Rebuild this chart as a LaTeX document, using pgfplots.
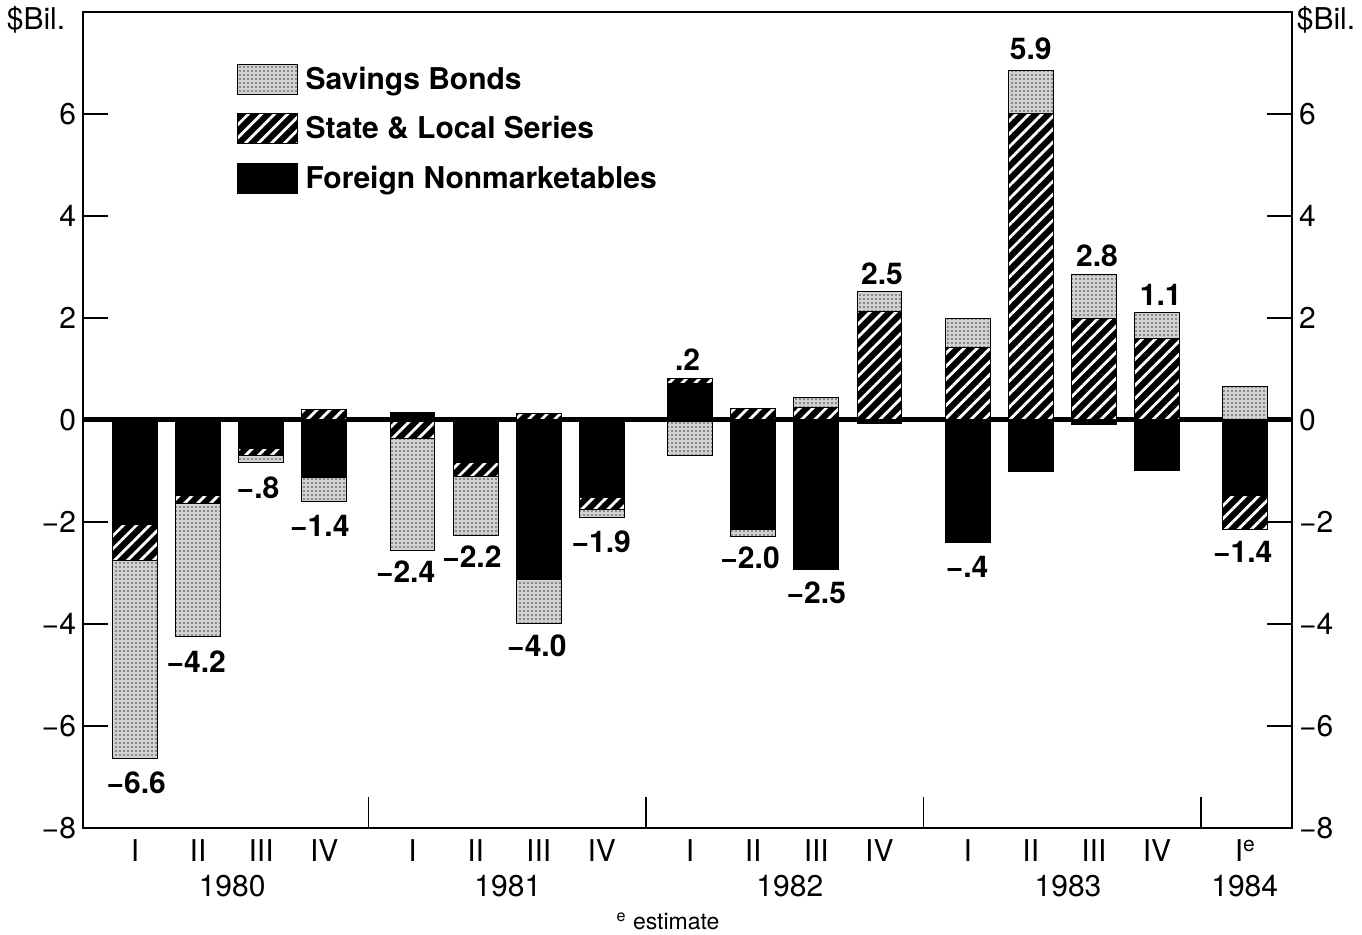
\documentclass[border=0pt]{standalone}
\usepackage{pgfplots}
\pgfplotsset{compat=1.18}
\usepackage{pgfplotstable}
\usetikzlibrary{patterns,patterns.meta}
\usepackage{fontspec}
\setmainfont{TeX Gyre Heros}

% negative parts of each quarter (Foreign, State&Local, Savings Bonds)
\pgfplotstableread{
x     F      SL     SB
0     -2.04  -0.72  -3.87
1     -1.48  -0.15  -2.62
2     -0.56  -0.13  -0.14
3     -1.12   0.00  -0.48
4.4    0.00  -0.36  -2.20
5.4   -0.83  -0.28  -1.15
6.4   -3.13   0.00  -0.87
7.4   -1.52  -0.24  -0.15
8.8    0.00   0.00  -0.70
9.8   -2.15   0.00  -0.13
10.8  -2.93   0.00   0.00
11.8  -0.07   0.00   0.00
13.2  -2.40   0.00   0.00
14.2  -1.02   0.00   0.00
15.2  -0.08   0.00   0.00
16.2  -1.00   0.00   0.00
17.6  -1.48  -0.66   0.00
}\negdata
% positive parts
\pgfplotstableread{
x     F      SL     SB
0     0.00   0.00   0.00
1     0.00   0.00   0.00
2     0.00   0.00   0.00
3     0.00   0.20   0.00
4.4   0.15   0.00   0.00
5.4   0.00   0.00   0.00
6.4   0.00   0.12   0.00
7.4   0.00   0.00   0.00
8.8   0.71   0.11   0.00
9.8   0.00   0.23   0.00
10.8  0.00   0.25   0.20
11.8  0.00   2.12   0.39
13.2  0.00   1.42   0.56
14.2  0.00   6.00   0.86
15.2  0.00   1.98   0.87
16.2  0.00   1.59   0.51
17.6  0.00   0.00   0.66
}\posdata

\tikzset{
  fnm/.style={fill=black, draw=black, line width=0.5pt},
  sls/.style={fill=black, draw=black, line width=0.5pt,
     postaction={pattern={Lines[angle=45,distance=4.6pt,line width=1.4pt]}, pattern color=white}},
  sbs/.style={fill=black!18, draw=black, line width=0.5pt,
     postaction={pattern={Dots[distance=2pt,radius=0.45pt]}, pattern color=black!75}},
  vl/.style={font=\fontsize{15}{18}\selectfont\bfseries, anchor=center},
  yr/.style={font=\fontsize{15}{18}\selectfont, anchor=base},
}
\pgfplotsset{
  leg/.style={legend image code/.code={\draw[##1] (0pt,-7.5pt) rectangle (30pt,7.5pt);}},
  common/.style={
    scale only axis, width=604.5pt, height=408pt,
    at={(0,0)}, anchor=south west,
    xmin=-0.824, xmax=18.34, ymin=-8, ymax=8,
    ybar stacked, bar width=0.71,
    ytick={-8,-6,-4,-2,0,2,4,6},
    yticklabels={−8,−6,−4,−2,0,2,4,6},
    tick align=inside, major tick length=12.5pt,
    axis line style={line width=0.8pt},
    tick style={black, line width=0.8pt},
    ytick pos=both, xtick pos=left,
    tick label style={font=\fontsize{15}{18}\selectfont},
    clip=false,
  },
}

\begin{document}
\begin{tikzpicture}
\useasboundingbox (-41.5pt,-53.5pt) rectangle (639.5pt,414pt);
\begin{axis}[common,
  major tick length=0pt,
  yticklabel pos=left,
  xtick={0,1,2,3,4.4,5.4,6.4,7.4,8.8,9.8,10.8,11.8,13.2,14.2,15.2,16.2,17.6},
  xticklabels={I,II,III,IV,I,II,III,IV,I,II,III,IV,I,II,III,IV,I\textsuperscript{e}},
  xticklabel style={anchor=base, yshift=-17pt},
  legend style={at={(rel axis cs:0.127,0.9375)}, anchor=north west, draw=none, fill=none,
     inner sep=0pt, outer sep=0pt, row sep=8pt,
     font=\fontsize{15}{18}\selectfont\bfseries,
     /tikz/every odd column/.append style={column sep=2pt}},
  legend cell align=left, reverse legend,
]
\addplot[fnm, leg] table[x=x,y=F]{\negdata};
\addlegendentry{Foreign Nonmarketables}
\addplot[sls, leg] table[x=x,y=SL]{\negdata};
\addlegendentry{State \& Local Series}
\addplot[sbs, leg] table[x=x,y=SB]{\negdata};
\addlegendentry{Savings Bonds}
\end{axis}

\begin{axis}[common,
  yticklabel pos=right,
  xtick=\empty,
]
\addplot[fnm] table[x=x,y=F]{\posdata};
\addplot[sls] table[x=x,y=SL]{\posdata};
\addplot[sbs] table[x=x,y=SB]{\posdata};
\draw[line width=2.5pt] (axis cs:-0.824,0) -- (axis cs:18.34,0);
\draw[line width=0.8pt] (axis cs:3.7,-8) -- (axis cs:3.7,-7.39);
\draw[line width=0.8pt] (axis cs:8.1,-8) -- (axis cs:8.1,-7.39);
\draw[line width=0.8pt] (axis cs:12.5,-8) -- (axis cs:12.5,-7.39);
\draw[line width=0.8pt] (axis cs:16.9,-8) -- (axis cs:16.9,-7.39);
% value labels
\node[vl] at (axis cs:0.02,-7.12) {−6.6};
\node[vl] at (axis cs:0.97,-4.73) {−4.2};
\node[vl] at (axis cs:1.95,-1.32) {−.8};
\node[vl] at (axis cs:2.93,-2.08) {−1.4};
\node[vl] at (axis cs:4.29,-2.98) {−2.4};
\node[vl] at (axis cs:5.34,-2.67) {−2.2};
\node[vl] at (axis cs:6.37,-4.43) {−4.0};
\node[vl] at (axis cs:7.39,-2.39) {−1.9};
\node[vl] at (axis cs:8.76,1.18) {.2};
\node[vl] at (axis cs:9.75,-2.71) {−2.0};
\node[vl] at (axis cs:10.8,-3.38) {−2.5};
\node[vl] at (axis cs:11.84,2.86) {2.5};
\node[vl] at (axis cs:13.19,-2.88) {−.4};
\node[vl] at (axis cs:14.2,7.27) {5.9};
\node[vl] at (axis cs:15.25,3.22) {2.8};
\node[vl] at (axis cs:16.26,2.46) {1.1};
\node[vl] at (axis cs:17.56,-2.58) {−1.4};
% years
\node[yr, yshift=-34.5pt] at (axis cs:1.54,-8) {1980};
\node[yr, yshift=-34.5pt] at (axis cs:5.91,-8) {1981};
\node[yr, yshift=-34.5pt] at (axis cs:10.38,-8) {1982};
\node[yr, yshift=-34.5pt] at (axis cs:14.79,-8) {1983};
\node[yr, yshift=-34.5pt] at (axis cs:17.59,-8) {1984};
\node[anchor=base, font=\fontsize{11.5}{14}\selectfont, yshift=-51pt] at (axis cs:8.45,-8) {\textsuperscript{e} estimate};
% unit labels
\node[font=\fontsize{15}{18}\selectfont, xshift=-23.5pt, yshift=-4pt] at (rel axis cs:0,1) {\$Bil.};
\node[font=\fontsize{15}{18}\selectfont, xshift=17pt, yshift=-4pt] at (rel axis cs:1,1) {\$Bil.};
\end{axis}
\end{tikzpicture}
\end{document}
